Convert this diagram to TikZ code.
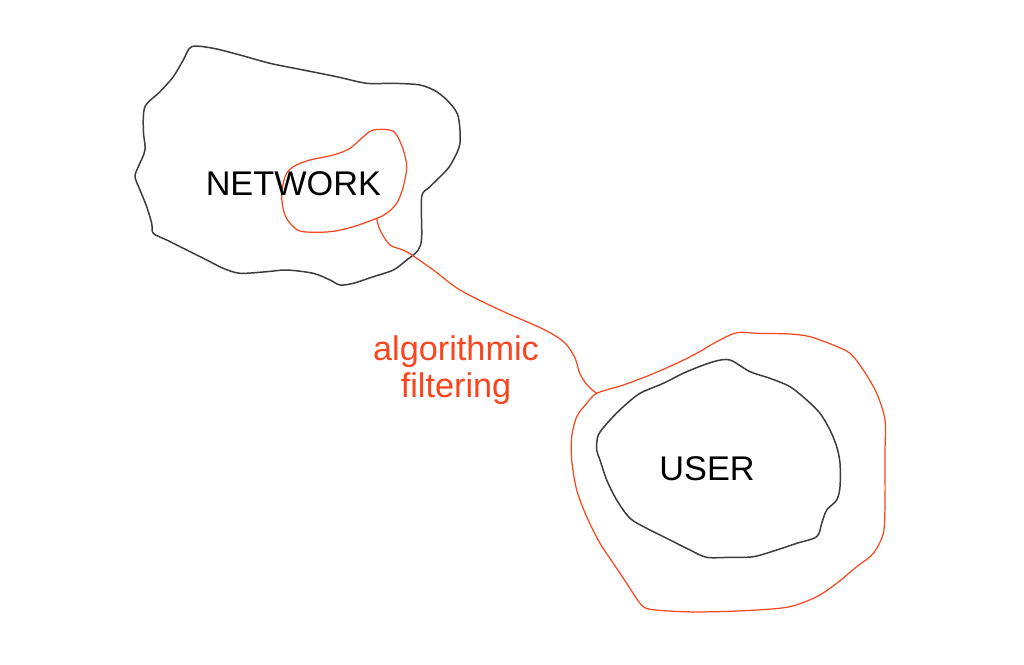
\documentclass[tikz,border=0pt]{standalone}
\usepackage{fontspec}
\setmainfont{Liberation Sans}
\definecolor{filterred}{RGB}{250,70,30}
\definecolor{outlinegray}{RGB}{60,60,60}
\tikzset{
  outline/.style={draw=outlinegray, line width=0.85pt, line join=round},
  filterline/.style={draw=filterred, line width=0.7pt, line join=round},
  bigtext/.style={font=\fontsize{19.5}{21}\selectfont, inner sep=0pt}
}
\begin{document}
\begin{tikzpicture}[x=0.02cm, y=-0.02cm]
    \useasboundingbox (0,0) rectangle (1024,664);
    % network blob
    \draw [outline] plot[smooth cycle, tension=0.5] coordinates {
        (191.7,46.7) (183.3,60) (173.3,76.7) (160,91.7) (145,106.7) (143.3,130)
        (145,150) (138.3,166.7) (135,176.7) (140,190) (146.7,206.7) (151.7,223.3)
        (153.3,233.3) (166.7,240) (186.7,250) (206.7,260) (223.3,268.3) (240,273.3)
        (266.7,271.7) (286.7,270) (313.3,273.3) (330,280) (340,285) (353.3,283.3)
        (373.3,276.7) (393.3,270) (406.7,260) (418.3,250) (421.7,236.7) (421.7,196.7)
        (430,186.7) (446.7,170) (453.3,160) (460,143.3) (458.3,116.7) (450,103.3)
        (436.7,91.7) (420,85) (393.3,83.3) (366.7,83.3) (336.7,76.7) (303.3,70)
        (270,63.3) (240,55) (213.3,48.3)};
    % user blob
    \draw [outline] plot[smooth cycle, tension=0.5] coordinates {
        (713.3,361.7) (730,360) (750,371.7) (770,378.3) (790,386.7) (806.7,400)
        (820,413.3) (830,430) (836.7,446.7) (840,463.3) (840,486.7) (836.7,500)
        (826.7,510) (821.7,523.3) (816.7,536.7) (796.7,543.3) (776.7,550) (753.3,556.7)
        (730,557.3) (706.7,557.3) (690,550) (666.7,538.3) (646.7,528.3) (630,518.3)
        (616.7,500) (606.7,480) (600,460) (596.7,450) (598.3,435) (610,420)
        (623.3,406.7) (640,393.3) (663.3,383.3) (686.7,371.7)};
    % filter loops
    \draw [filterline] plot[smooth cycle, tension=0.55] coordinates {
        (376.7,218.3) (353.3,226.7) (330,231.7) (303.3,231.7) (293.3,226.7) (285,215)
        (281.7,196.7) (285,176.7) (293.3,166.7) (310,160) (333.3,155) (350,148.3)
        (363.3,136.7) (373.3,130) (390,130) (396.7,135) (403.3,150) (406.7,166.7)
        (403.3,186.7) (396.7,203.3) (386.7,213.3)};
    \draw [filterline] plot[smooth cycle, tension=0.5] coordinates {
        (596.7,393.3) (623.3,385) (650,375) (676.7,363.3) (696.7,353.3) (716.7,341.7)
        (736.7,332.7) (756.7,333.3) (790,334) (810,336.7) (833.3,345) (850,353.3)
        (863.3,370) (876.7,393.3) (885,420) (885,453.3) (885,503.3) (883.3,533.3)
        (873.3,553.3) (856.7,566.7) (836.7,583.3) (816.7,596.7) (790,606.7) (756.7,610)
        (716.7,611.7) (683.3,611.7) (650,609.3) (640,603.3) (626.7,583.3) (613.3,563.3)
        (600,543.3) (586.7,516.7) (576.7,490) (571.7,460) (571.7,436.7) (576.7,416.7)
        (586.7,403.3)};
    % connector between the loops
    \coordinate (innerloop) at (376.7,218.3);
    \coordinate (outerloop) at (596.7,393.3);
    \draw [filterline] plot[smooth, tension=0.5] coordinates {
        (innerloop) (380,230) (390,245) (406.7,251.7) (433.3,270) (460,290)
        (500,310) (545,330) (565,343) (575,358) (580,374) (588,386) (outerloop)};
    % labels
    \node [bigtext, anchor=base] (network) at (293.3,195) {NETWORK};
    \node [bigtext, anchor=base] (user) at (707,480) {USER};
    \node [bigtext, text=filterred, align=center, anchor=north] (filtering) at (456,335)
        {algorithmic\\filtering};
\end{tikzpicture}
\end{document}
